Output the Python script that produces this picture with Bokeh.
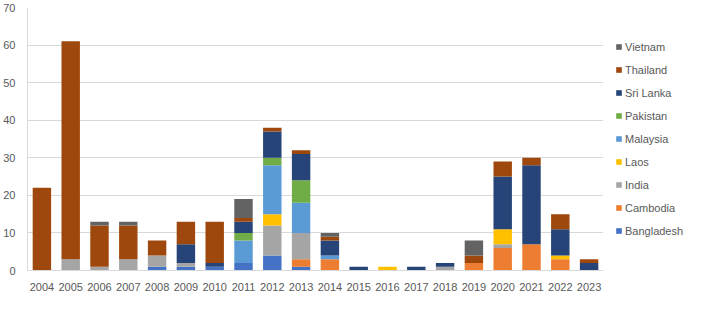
from bokeh.plotting import figure
from bokeh.models import ColumnDataSource, Legend, LegendItem, FactorRange
from bokeh.core.properties import value
from bokeh.embed import file_html
from bokeh.resources import INLINE

years = [str(y) for y in range(2004, 2024)]
countries = ["Bangladesh", "Cambodia", "India", "Laos", "Malaysia",
             "Pakistan", "Sri Lanka", "Thailand", "Vietnam"]
colors = ["#4472C4", "#ED7D31", "#A5A5A5", "#FFC000", "#5B9BD5",
          "#70AD47", "#264478", "#9E480E", "#636363"]

bangladesh = [0, 0, 0, 0, 1, 1, 1, 2, 4, 1, 0, 0, 0, 0, 0, 0, 0, 0, 0, 0]
cambodia   = [0, 0, 0, 0, 0, 0, 0, 0, 0, 2, 3, 0, 0, 0, 0, 2, 6, 7, 3, 0]
india      = [0, 3, 1, 3, 3, 1, 0, 0, 8, 7, 0, 0, 0, 0, 1, 0, 1, 0, 0, 0]
laos       = [0, 0, 0, 0, 0, 0, 0, 0, 3, 0, 0, 0, 1, 0, 0, 0, 4, 0, 1, 0]
malaysia   = [0, 0, 0, 0, 0, 0, 0, 6, 13, 8, 1, 0, 0, 0, 0, 0, 0, 0, 0, 0]
pakistan   = [0, 0, 0, 0, 0, 0, 0, 2, 2, 6, 0, 0, 0, 0, 0, 0, 0, 0, 0, 0]
sri_lanka  = [0, 0, 0, 0, 0, 5, 1, 3, 7, 7, 4, 1, 0, 1, 1, 0, 14, 21, 7, 2]
thailand   = [22, 58, 11, 9, 4, 6, 11, 1, 1, 1, 1, 0, 0, 0, 0, 2, 4, 2, 4, 1]
vietnam    = [0, 0, 1, 1, 0, 0, 0, 5, 0, 0, 1, 0, 0, 0, 0, 4, 0, 0, 0, 0]

series = [bangladesh, cambodia, india, laos, malaysia, pakistan, sri_lanka, thailand, vietnam]

keys = ["s%d" % i for i in range(len(countries))]
data = {"year": years}
for k, s in zip(keys, series):
    data[k] = s
source = ColumnDataSource(data)

FONT = "Liberation Sans"
TXT = "#595959"

p = figure(x_range=FactorRange(*years), y_range=(0, 70),
           frame_width=576, frame_height=263,
           output_backend="svg", toolbar_location=None,
           min_border_left=25, min_border_right=0, min_border_top=7, min_border_bottom=20)
p.outline_line_color = None

renderers = p.vbar_stack(keys, x="year", width=0.64, color=colors, source=source,
                         line_color=None)

p.yaxis.ticker = list(range(0, 71, 10))
p.xgrid.grid_line_color = None
p.ygrid.grid_line_color = "#D9D9D9"
p.ygrid.grid_line_width = 1

for ax in (p.xaxis[0], p.yaxis[0]):
    ax.axis_line_color = "#D9D9D9"
    ax.major_tick_line_color = None
    ax.minor_tick_line_color = None
    ax.major_label_text_font = FONT
    ax.major_label_text_font_size = "11px"
    ax.major_label_text_color = TXT
p.yaxis.major_label_standoff = 6
p.xaxis.major_label_standoff = 6

items = [LegendItem(label=value(c), renderers=[r]) for c, r in zip(countries, renderers)][::-1]
legend = Legend(items=items, location="left", orientation="vertical",
                glyph_width=7, glyph_height=7, label_height=12, spacing=11,
                label_standoff=3, padding=0, margin=12,
                label_text_font=FONT, label_text_font_size="11px", label_text_color=TXT,
                border_line_color=None, background_fill_alpha=0)
p.add_layout(legend, "right")

open("out.html", "w").write(file_html(p, INLINE))
